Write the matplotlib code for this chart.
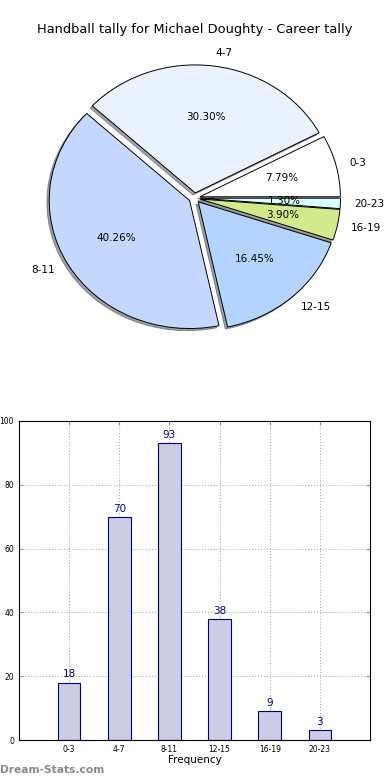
import matplotlib
matplotlib.use("Agg")
import matplotlib.pyplot as plt

# hour ranges and handball counts
ranges = ['0-3', '4-7', '8-11', '12-15', '16-19', '20-23']
tally = [18, 70, 93, 38, 9, 3]
pie_colours = ['#ffffff', '#eaf1ff', '#c4d8ff', '#b4d4ff', '#d1ea8c', '#d9ffff']
explode = [0.04] * len(tally)

fig = plt.figure(figsize=(3.9, 7.8), dpi=100)

# top: pie of the tally, stretched to the axes like the old matplotlib did
ax_pie = fig.add_axes([19 / 390, 1 - 358 / 780, 351 / 390, 320 / 780])
wedges, texts, pcts = ax_pie.pie(tally, labels=ranges, colors=pie_colours, explode=explode,
                                 autopct='%1.2f%%', startangle=0,
                                 shadow={'ox': -0.012, 'oy': -0.012},
                                 wedgeprops={'edgecolor': 'black', 'linewidth': 0.7},
                                 textprops={'fontsize': 7.5})
ax_pie.set_aspect('auto')
ax_pie.set_xlim(-1.25, 1.25)
ax_pie.set_ylim(-1.25, 1.25)
fig.text(0.5, 1 - 30 / 780, 'Handball tally for Michael Doughty - Career tally',
         ha='center', va='center', fontsize=9.4)

# bottom: bar chart of the same numbers
ax_bar = fig.add_axes([19 / 390, 40 / 780, 351 / 390, 319 / 780])
xs = list(range(len(tally)))
ax_bar.bar(xs, tally, width=0.45, color='#ccccE5', edgecolor='navy', linewidth=0.8, zorder=2)
for x, v in zip(xs, tally):
    ax_bar.text(x, v + 1, str(v), ha='center', va='bottom', color='darkblue', fontsize=7.5)
ax_bar.set_xlim(-1, 6)
ax_bar.set_ylim(0, 100)
ax_bar.set_xticks(xs)
ax_bar.set_xticklabels(ranges)
ax_bar.set_yticks([0, 20, 40, 60, 80, 100])
ax_bar.tick_params(labelsize=5.5, direction='in', top=True, right=True, length=3, color='#999999')
ax_bar.grid(True, linestyle=':', color='#b0b0b0', linewidth=0.8, zorder=0)
ax_bar.set_xlabel('Frequency', fontsize=7.5, labelpad=1)

fig.text(0.0, 1 - 770 / 780, 'Dream-Stats.com', ha='left', va='center',
         fontsize=7.7, fontweight='bold', color='#8a8a8a')

fig.savefig('out.png', dpi=100)
